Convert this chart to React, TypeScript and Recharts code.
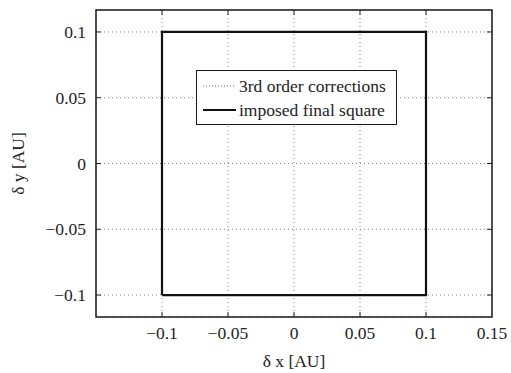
import { ComposedChart, Line, XAxis, YAxis, CartesianGrid, ReferenceArea } from 'recharts';

// plot frame
const W = 511;
const H = 373;
const TOP = 10;
const BOTTOM = 317;
const LEFT = 96;
const RIGHT = 492;

const FONT = '"Liberation Serif", "Times New Roman", Times, serif';

const xDomain = [-0.15, 0.15];
const yDomain = [-0.1167, 0.1167];
const xTicks = [-0.1, -0.05, 0, 0.05, 0.1, 0.15];
const yTicks = [-0.1, -0.05, 0, 0.05, 0.1];

// corners of the square, walked round once
const squareX = [-0.1, 0.1, 0.1, -0.1, -0.1];
const squareY = [-0.1, -0.1, 0.1, 0.1, -0.1];
const correctionX = [-0.1, 0.1, 0.1, -0.1, -0.1];
const correctionY = [-0.1, -0.1, 0.1, 0.1, -0.1];

const seriesNames = ['3rd order corrections', 'imposed final square'];

const squareData = squareX.map((x, i) => ({ x, y: squareY[i] }));
const correctionData = correctionX.map((x, i) => ({ x, y: correctionY[i] }));

const fmt = (v: number) => (v < 0 ? '\u2212' : '') + String(Math.abs(v));

function XTick(props: any) {
  const { x, payload } = props;
  const edge = payload.value >= 0.15;
  return (
    <g>
      {!edge && <line x1={x} x2={x} y1={BOTTOM} y2={BOTTOM - 5} stroke="#222" />}
      {!edge && <line x1={x} x2={x} y1={TOP} y2={TOP + 5} stroke="#222" />}
      <text x={x} y={339} textAnchor="middle" fontFamily={FONT} fontSize={17.5} fill="#222">
        {fmt(payload.value)}
      </text>
    </g>
  );
}

function YTick(props: any) {
  const { y, payload } = props;
  return (
    <g>
      <line x1={LEFT} x2={LEFT + 5} y1={y} y2={y} stroke="#222" />
      <line x1={RIGHT} x2={RIGHT - 5} y1={y} y2={y} stroke="#222" />
      <text x={86} y={y + 6} textAnchor="end" fontFamily={FONT} fontSize={17.5} fill="#222">
        {fmt(payload.value)}
      </text>
    </g>
  );
}

function LegendBox() {
  return (
    <div
      style={{
        position: 'absolute',
        left: 196,
        top: 70,
        width: 201,
        height: 55,
        border: '1.5px solid #1a1a1a',
        background: '#fff',
        fontFamily: FONT,
        fontSize: 17.5,
        color: '#222',
        boxSizing: 'border-box',
        paddingTop: 3,
      }}
    >
      {seriesNames.map((name, i) => (
        <div key={name} style={{ display: 'flex', alignItems: 'center', height: 24, lineHeight: '24px' }}>
          <svg width={42} height={10} style={{ flex: 'none' }}>
            <line
              x1={6}
              x2={39}
              y1={5}
              y2={5}
              stroke={i === 0 ? '#777' : '#111'}
              strokeWidth={i === 0 ? 1 : 2.2}
              strokeDasharray={i === 0 ? '1 2' : undefined}
            />
          </svg>
          <span style={{ whiteSpace: 'nowrap' }}>{name}</span>
        </div>
      ))}
    </div>
  );
}

export default function App() {
  return (
    <div style={{ position: 'absolute', left: 0, top: 0, width: W, height: H, background: '#fff' }}>
      <ComposedChart width={W} height={H} margin={{ top: TOP, right: W - RIGHT, left: 0, bottom: 0 }}>
        <CartesianGrid stroke="#666" strokeDasharray="1 3" strokeWidth={0.8} />
        <XAxis
          type="number"
          dataKey="x"
          domain={xDomain}
          ticks={xTicks}
          allowDataOverflow
          height={H - BOTTOM}
          tickLine={false}
          axisLine={false}
          tick={<XTick />}
          interval={0}
          label={{ value: '\u03b4 x [AU]', position: 'insideBottom', offset: 6, fontFamily: FONT, fontSize: 17.5, fill: '#222' }}
        />
        <YAxis
          type="number"
          dataKey="y"
          domain={yDomain}
          ticks={yTicks}
          allowDataOverflow
          width={LEFT}
          tickLine={false}
          axisLine={false}
          tick={<YTick />}
          interval={0}
          label={{ value: '\u03b4 y [AU]', angle: -90, position: 'insideLeft', offset: 18, fontFamily: FONT, fontSize: 17.5, fill: '#222', style: { textAnchor: 'middle' } }}
        />
        <Line
          data={correctionData}
          dataKey="y"
          name={seriesNames[0]}
          type="linear"
          stroke="#777"
          strokeWidth={1}
          strokeDasharray="1 2"
          dot={false}
          isAnimationActive={false}
        />
        <Line
          data={squareData}
          dataKey="y"
          name={seriesNames[1]}
          type="linear"
          stroke="#111"
          strokeWidth={2.2}
          dot={false}
          isAnimationActive={false}
        />
        <ReferenceArea
          x1={xDomain[0]}
          x2={xDomain[1]}
          y1={yDomain[0]}
          y2={yDomain[1]}
          fill="none"
          stroke="#1a1a1a"
          strokeWidth={1.5}
          ifOverflow="visible"
        />
      </ComposedChart>
      <LegendBox />
    </div>
  );
}
